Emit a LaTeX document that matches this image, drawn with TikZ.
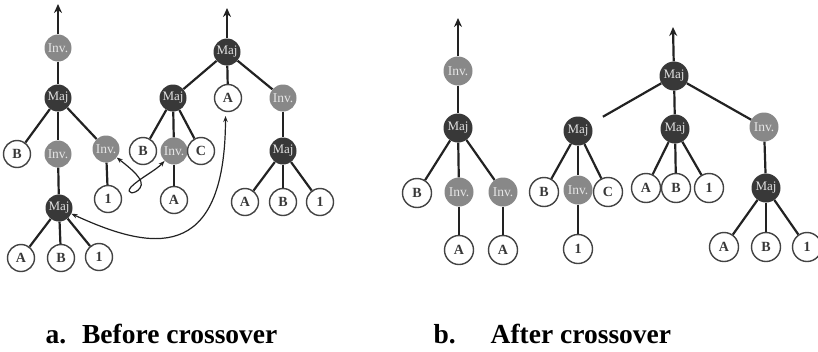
\documentclass[tikz,border=0pt]{standalone}
\usepackage{fontspec}
\setmainfont{Liberation Serif}
\usetikzlibrary{arrows.meta}

\definecolor{majfill}{HTML}{383838}
\definecolor{invfill}{HTML}{888888}
\definecolor{ink}{HTML}{222222}

\begin{document}
\begin{tikzpicture}[x=1pt, y=-1pt,
    gate/.style={circle, inner sep=0pt, minimum size=27pt},
    maj/.style={gate, fill=majfill, text=white!88!black,
                font=\fontsize{13}{13}\selectfont},
    inv/.style={gate, fill=invfill, text=white!90!black,
                font=\fontsize{13.5}{13.5}\selectfont},
    leaf/.style={gate, draw=ink!85, line width=1.4pt, fill=white,
                 text=ink!90, font=\fontsize{14}{14}\selectfont\bfseries},
    wire/.style={draw=ink, line width=2.2pt},
    outarrow/.style={wire, -{Stealth[length=9pt, width=8pt]}},
    xover/.style={draw=ink, line width=1.2pt,
                  {Stealth[length=6pt, width=4.5pt]}-{Stealth[length=6pt, width=4.5pt]}},
    caption/.style={anchor=base west, font=\fontsize{27.5}{27.5}\selectfont\bfseries}]
  \clip (0,0) rectangle (818,351);

  % a. first parent
  \node[inv]  (inv1) at (58,48)   {Inv.};
  \node[maj]  (maj1) at (58,98)   {Maj};
  \node[leaf] (b1)   at (17,154)  {B};
  \node[inv]  (inv2) at (58,154)  {Inv.};
  \node[inv]  (inv3) at (106,149) {Inv.};
  \node[leaf] (one1) at (108,199) {1};
  \node[maj]  (maj2) at (59,208)  {Maj};
  \node[leaf] (a1)   at (21,258)  {A};
  \node[leaf] (b2)   at (61,258)  {B};
  \node[leaf] (one2) at (99,257)  {1};
  \coordinate (top1) at (58,4);
  \draw[outarrow] (inv1) -- (top1);
  \draw[wire] (inv1) -- (maj1);
  \foreach \c in {b1, inv2, inv3} \draw[wire] (maj1) -- (\c);
  \draw[wire] (inv2) -- (maj2);
  \draw[wire] (inv3) -- (one1);
  \foreach \c in {a1, b2, one2} \draw[wire] (maj2) -- (\c);

  % a. second parent
  \node[maj]  (maj3) at (227,52)  {Maj};
  \node[maj]  (maj4) at (173,98)  {Maj};
  \node[leaf] (a2)   at (228,98)  {A};
  \node[inv]  (inv4) at (283,98)  {Inv.};
  \node[leaf] (b3)   at (143,151) {B};
  \node[inv]  (inv5) at (174,151) {Inv.};
  \node[leaf] (c1)   at (201,151) {C};
  \node[leaf] (a3)   at (174,200) {A};
  \node[maj]  (maj5) at (283,151) {Maj};
  \node[leaf] (a4)   at (245,202) {A};
  \node[leaf] (b4)   at (283,202) {B};
  \node[leaf] (one3) at (320,202) {1};
  \coordinate (top2) at (227,8);
  \draw[outarrow] (maj3) -- (top2);
  \foreach \c in {maj4, a2, inv4} \draw[wire] (maj3) -- (\c);
  \foreach \c in {b3, inv5, c1} \draw[wire] (maj4) -- (\c);
  \draw[wire] (inv5) -- (a3);
  \draw[wire] (inv4) -- (maj5);
  \foreach \c in {a4, b4, one3} \draw[wire] (maj5) -- (\c);

  % swapped subtrees
  \draw[xover] (inv3) .. controls (130,168) and (146,180) .. (140,188)
               .. controls (135,195) and (125,194) .. (131,187)
               .. controls (140,178) and (155,171) .. (inv5);
  \draw[xover, shorten >=4pt] (maj2) .. controls (150,250) and (225,265) .. (a2.-100);

  \begin{scope}[gate/.append style={minimum size=29pt}]
    % b. first child
    \node[inv]  (inv6) at (458,71)  {Inv.};
    \node[maj]  (maj6) at (458,128) {Maj};
    \node[leaf] (b5)   at (417,193) {B};
    \node[inv]  (inv7) at (459,192) {Inv.};
    \node[inv]  (inv8) at (503,192) {Inv.};
    \node[leaf] (a5)   at (459,250) {A};
    \node[leaf] (a6)   at (503,250) {A};
    \coordinate (top3) at (458,18);
    \draw[outarrow] (inv6) -- (top3);
    \draw[wire] (inv6) -- (maj6);
    \foreach \c in {b5, inv7, inv8} \draw[wire] (maj6) -- (\c);
    \draw[wire] (inv7) -- (a5);
    \draw[wire] (inv8) -- (a6);

    % b. second child
    \node[maj]  (maj7)  at (674,76)  {Maj};
    \node[maj]  (maj8)  at (578,131) {Maj};
    \node[maj]  (maj9)  at (675,129) {Maj};
    \node[inv]  (inv9)  at (764,127) {Inv.};
    \node[leaf] (b6)    at (544,192) {B};
    \node[inv]  (inv10) at (578,190) {Inv.};
    \node[leaf] (c2)    at (608,192) {C};
    \node[leaf] (one4)  at (578,249) {1};
    \node[leaf] (a7)    at (646,188) {A};
    \node[leaf] (b7)    at (676,188) {B};
    \node[leaf] (one5)  at (709,188) {1};
    \node[maj]  (maj10) at (766,188) {Maj};
    \node[leaf] (a8)    at (724,247) {A};
    \node[leaf] (b8)    at (766,247) {B};
    \node[leaf] (one6)  at (807,247) {1};
    \coordinate (top4) at (673,27);
    \draw[outarrow] (maj7) -- (top4);
    \draw[wire, shorten >=14pt] (maj7) -- (maj8);
    \draw[wire] (maj7) -- (maj9);
    \draw[wire] (maj7) -- (inv9);
    \foreach \c in {b6, inv10, c2} \draw[wire] (maj8) -- (\c);
    \draw[wire] (inv10) -- (one4);
    \foreach \c in {a7, b7, one5} \draw[wire] (maj9) -- (\c);
    \draw[wire] (inv9) -- (maj10);
    \foreach \c in {a8, b8, one6} \draw[wire] (maj10) -- (\c);
  \end{scope}

  % captions
  \node[caption] (capbefore) at (42,343) {a.\hspace{16pt}Before crossover};
  \node[caption] (capafter)  at (430,343) {b.\hspace{35pt}After crossover};
\end{tikzpicture}
\end{document}
